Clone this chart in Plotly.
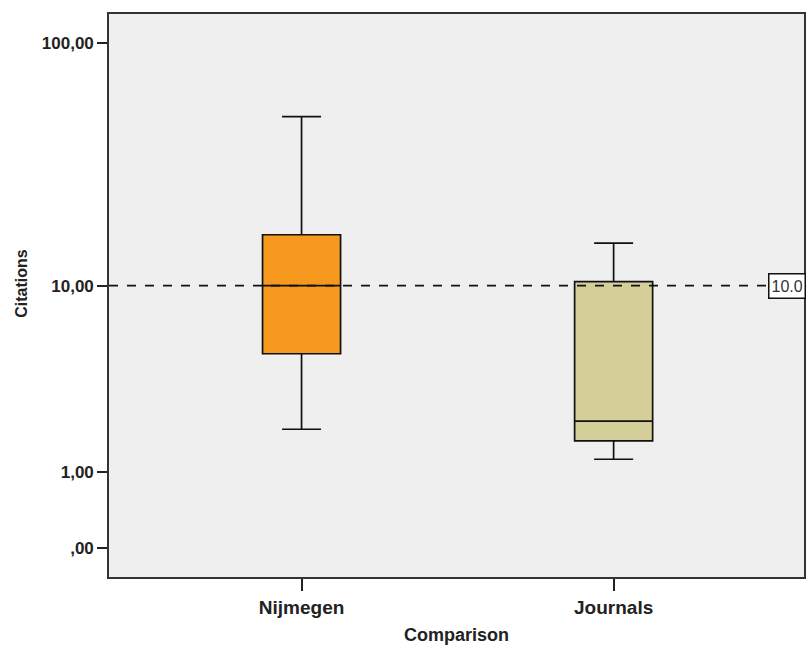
import math
import plotly.graph_objects as go

categories = ["Nijmegen", "Journals"]
lower_whisker = [1.96, 1.25]
q1_vals = [4.9, 1.66]
medians = [10.0, 2.19]
q3_vals = [16.5, 10.4]
upper_whisker = [50.5, 15.2]
box_colors = ["#F7981E", "#D4CF98"]
reference_value = 10.0
tick_values = [0, 1, 10, 100]
tick_labels = [",00", "1,00", "10,00", "100,00"]

FONT = "Liberation Sans, Arial, sans-serif"

# SPSS "safe log" scale: log10(1 + x), realised on a Plotly log axis with (1 + x)
def safe(v):
    return [1 + x for x in v]

fig = go.Figure()
for i, cat in enumerate(categories):
    fig.add_trace(go.Box(
        x=[i],
        lowerfence=safe([lower_whisker[i]]),
        q1=safe([q1_vals[i]]),
        median=safe([medians[i]]),
        q3=safe([q3_vals[i]]),
        upperfence=safe([upper_whisker[i]]),
        fillcolor=box_colors[i],
        line=dict(color="#111111", width=1.7),
        width=0.25,
        whiskerwidth=0.5,
        boxpoints=False,
        showlegend=False,
        hoverinfo="skip",
    ))

fig.add_shape(type="line", xref="paper", yref="y", x0=0, x1=1,
              y0=1 + reference_value, y1=1 + reference_value,
              line=dict(color="#111111", width=1.7, dash="dash"))

fig.add_annotation(xref="paper", yref="y", x=1.0, y=math.log10(1 + reference_value),
                   xanchor="right", yanchor="middle", text="10.0", showarrow=False,
                   xshift=2,
                   width=31, height=19, align="left", valign="middle",
                   font=dict(family=FONT, size=16, color="#333333"),
                   bgcolor="white", bordercolor="#111111", borderwidth=1.5, borderpad=2)

fig.add_annotation(xref="paper", yref="paper", x=-0.127, y=0.522, text="<b>Citations</b>",
                   textangle=-90, showarrow=False, xanchor="center", yanchor="middle",
                   font=dict(family=FONT, size=16, color="#222222"))
fig.add_annotation(xref="paper", yref="paper", x=0.5, y=-0.103, text="<b>Comparison</b>",
                   showarrow=False, xanchor="center", yanchor="middle",
                   font=dict(family=FONT, size=18, color="#222222"))

fig.update_layout(
    width=808, height=646,
    margin=dict(l=109, r=2, t=14, b=69),
    paper_bgcolor="white",
    plot_bgcolor="#EFEFEF",
    font=dict(family=FONT, size=12, color="#222222"),
    xaxis=dict(
        range=[-0.617, 1.61],
        tickvals=list(range(len(categories))),
        ticktext=["<b>%s</b>" % c for c in categories],
        ticks="outside", ticklen=12, tickwidth=1.5, tickcolor="#222222",
        showline=True, mirror=True, linecolor="#333333", linewidth=1.6,
        showgrid=False, zeroline=False,
        tickfont=dict(size=19),
    ),
    yaxis=dict(
        type="log",
        range=[-0.115, 2.119],
        tickvals=safe(tick_values),
        ticktext=["<b>%s</b>" % t for t in tick_labels],
        ticks="outside", ticklen=10, tickwidth=1.5, tickcolor="#222222",
        showline=True, mirror=True, linecolor="#333333", linewidth=1.6,
        showgrid=False, zeroline=False,
        tickfont=dict(size=17),
    ),
)

fig.write_html(
    "out.html",
    config={"displayModeBar": False},
    post_script="document.body.style.margin='0';document.body.style.padding='0';"
                "document.body.style.overflow='hidden';"
                "document.documentElement.style.overflow='hidden';",
)
